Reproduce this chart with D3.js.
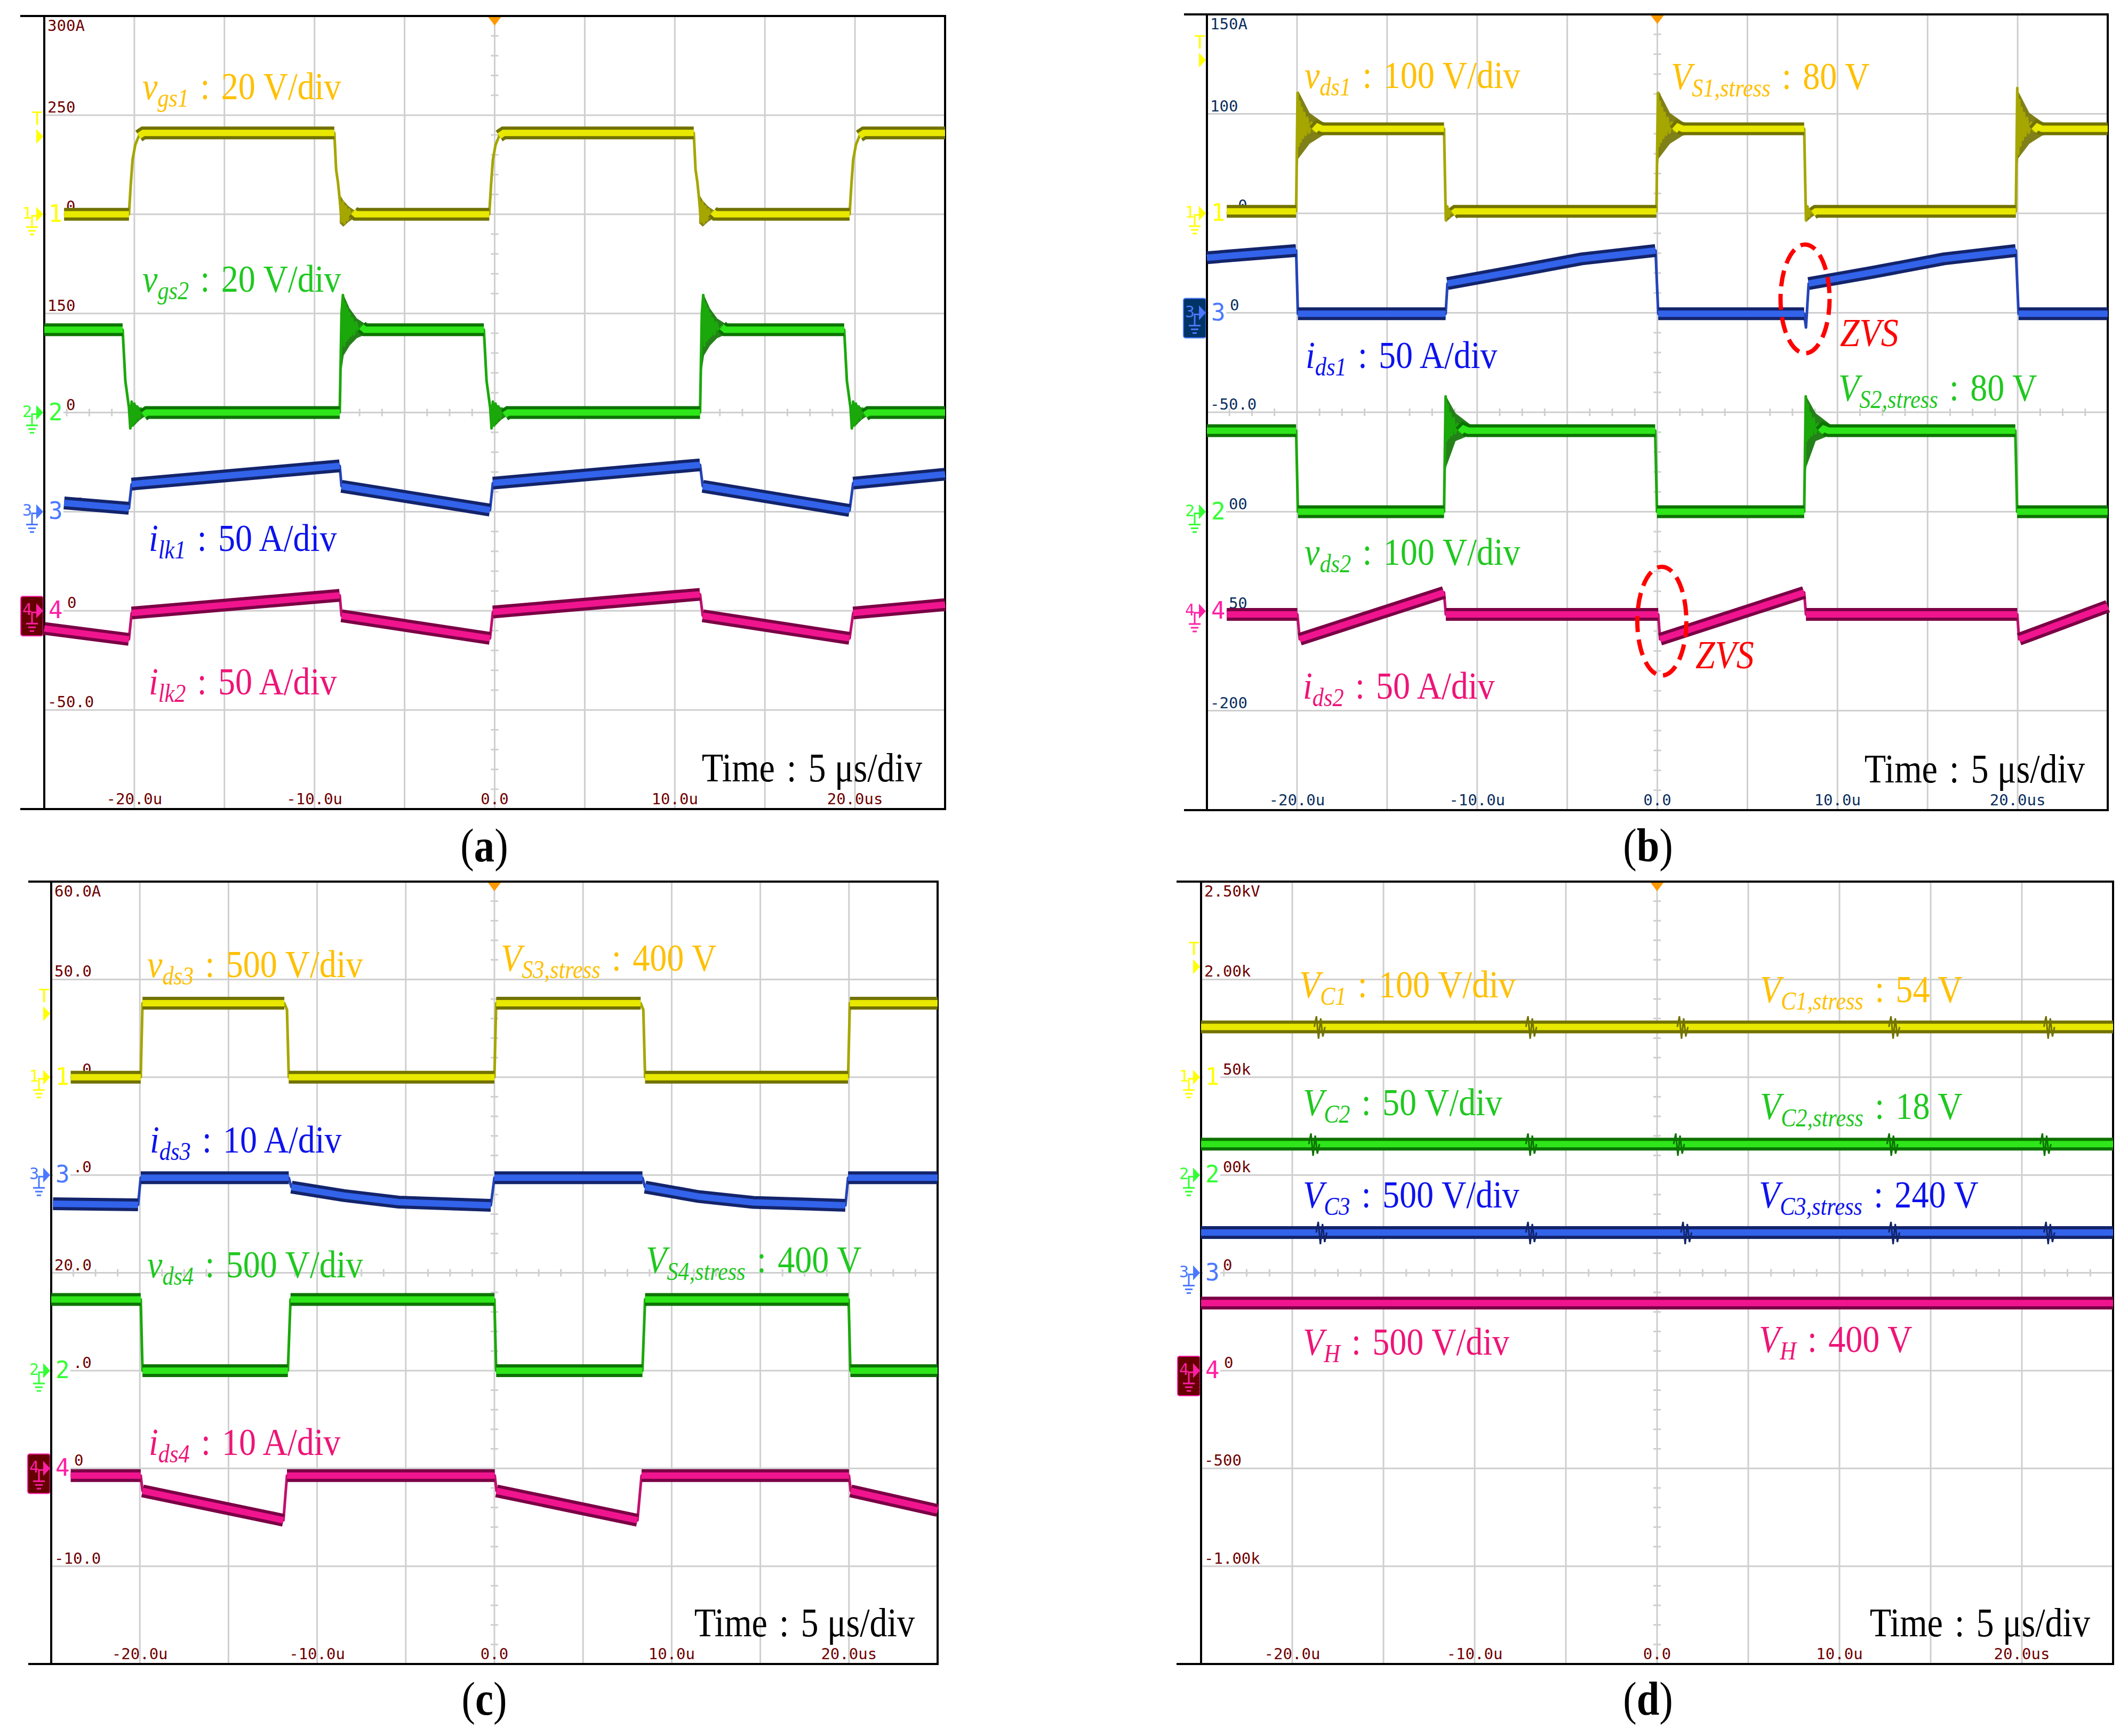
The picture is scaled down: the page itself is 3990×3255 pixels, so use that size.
<!DOCTYPE html>
<html lang="en">
<head>
<meta charset="UTF-8">
<title>Switching waveforms (a)-(d)</title>
<script src="https://cdn.jsdelivr.net/npm/d3@7"></script>
<style>
  body { margin: 0; background: #fff; }
  svg { display: block; }
</style>
</head>
<body>
<svg id="chart" width="3990" height="3255"></svg>
<script>
// ---------------- data ----------------
const timeTicks = [-20, -10, 0, 10, 20];
const timeTickText = ["-20.0u", "-10.0u", "0.0", "10.0u", "20.0us"];

const rowTextA = ["300A", "250", "200", "150", "100", "50.0", "0", "-50.0"];
const rowTextB = ["150A", "100", "50.0", "0", "-50.0", "-100", "-150", "-200"];
const rowTextC = ["60.0A", "50.0", "40.0", "30.0", "20.0", "10.0", "0", "-10.0"];
const rowTextD = ["2.50kV", "2.00k", "1.50k", "1.00k", "500", "0", "-500", "-1.00k"];

// grid row (0 = top) holding each channel's ground
const chRowA = { 1: 2, 2: 4, 3: 5, 4: 6 };
const chRowB = { 1: 2, 3: 3, 2: 5, 4: 6 };
const chRowC = { 1: 2, 3: 3, 2: 5, 4: 6 };
const chRowD = { 1: 2, 2: 3, 3: 4, 4: 5 };

// (a) [time us, value]
const aVgs1 = [[-23.9,0],[-20.3,0],[-20.2,6],[-20.1,11],[-19.95,14],[-19.75,15.8],[-19.5,16.4],[-8.9,16.4],[-8.8,9],[-8.7,6.5],[-8.6,3],[-8.5,-1.5],[-8.42,2.5],[-8.34,-1.8],[-8.26,1.6],[-8.18,-1.2],[-8.08,1],[-7.98,-0.6],[-7.85,0.5],[-7.7,0],
  [-0.3,0],[-0.2,6],[-0.1,11],[0.05,14],[0.25,15.8],[0.5,16.4],[11.05,16.4],[11.15,9],[11.25,6.5],[11.35,3],[11.45,-1.5],[11.53,2.5],[11.61,-1.8],[11.69,1.6],[11.77,-1.2],[11.87,1],[11.97,-0.6],[12.1,0.5],[12.25,0],
  [19.7,0],[19.8,6],[19.9,11],[20.05,14],[20.25,15.8],[20.5,16.4],[25,16.4]];
const aVgs2 = [[-25,16.7],[-20.65,16.7],[-20.5,6.4],[-20.3,1],[-20.22,-3.2],[-20.15,2.2],[-20.08,-2.6],[-20.0,1.8],[-19.92,-1.9],[-19.84,1.2],[-19.74,-1.2],[-19.64,0.8],[-19.5,-0.5],[-19.3,0],
  [-8.6,0],[-8.5,20],[-8.42,23.7],[-8.36,13.5],[-8.3,22],[-8.24,14.5],[-8.18,21],[-8.12,15],[-8.05,20],[-7.98,15.5],[-7.9,19],[-7.8,15.8],[-7.7,18.2],[-7.55,16.2],[-7.4,17.3],[-7.2,16.7],
  [-0.6,16.7],[-0.45,6.4],[-0.25,1],[-0.17,-3.2],[-0.1,2.2],[-0.03,-2.6],[0.05,1.8],[0.13,-1.9],[0.21,1.2],[0.31,-1.2],[0.41,0.8],[0.55,-0.5],[0.75,0],
  [11.4,0],[11.5,20],[11.58,23.7],[11.64,13.5],[11.7,22],[11.76,14.5],[11.82,21],[11.88,15],[11.95,20],[12.02,15.5],[12.1,19],[12.2,15.8],[12.3,18.2],[12.45,16.2],[12.6,17.3],[12.8,16.7],
  [19.4,16.7],[19.55,6.4],[19.75,1],[19.83,-3.2],[19.9,2.2],[19.97,-2.6],[20.05,1.8],[20.13,-1.9],[20.21,1.2],[20.31,-1.2],[20.41,0.8],[20.55,-0.5],[20.75,0],[25,0]];
const aIlk1 = [[-23.9,4.4],[-20.3,1.7],[-20.15,13.9],[-8.6,23.1],[-8.5,12.8],[-0.26,0.8],[-0.1,14.4],[11.4,23.6],[11.55,12.8],[19.7,0.6],[19.9,14.4],[25,18.9]];
const aIlk2 = [[-25,-8.9],[-20.3,-14.4],[-20.15,-1.1],[-8.6,7.8],[-8.5,-2.5],[-0.26,-13.9],[-0.1,-0.6],[11.4,8.3],[11.55,-2.5],[19.7,-13.9],[19.9,-1.1],[25,3.1]];

// ringing envelopes: edge times and [dt, upper, lower]
const aVgs1FallTimes = [-8.9, 11.05];
const aVgs1FallRing = [[0.3,4,-1.8],[0.5,2.8,-2.5],[0.8,1.6,-1.5],[1.2,0.6,-0.6]];
const aVgs2RiseTimes = [-8.6, 11.4];
const aVgs2RiseRing = [[0.08,20,8],[0.22,23.7,11.5],[0.55,21,13.5],[0.95,19,15],[1.45,17.8,15.8],[2.0,17,16.4]];
const aVgs2FallTimes = [-20.65, -0.6, 19.4];
const aVgs2FallRing = [[0.35,1.5,-3.2],[0.65,1.8,-2.6],[0.95,1,-1.5],[1.35,0.5,-0.5]];

// (b)
const bVds1 = [[-23.9,2],[-20.05,2],[-19.97,121],[-19.92,68],[-19.86,112],[-19.8,72],[-19.74,106],[-19.67,76],[-19.6,101],[-19.52,79],[-19.43,96],[-19.33,81],[-19.2,91],[-19.05,83],[-18.85,87],[-18.6,85],
  [-11.84,85],[-11.74,-7],[-11.66,7],[-11.58,-3],[-11.48,4],[-11.35,0],[-11.2,2],
  [-0.05,2],[0.03,121],[0.08,68],[0.14,112],[0.2,72],[0.26,106],[0.33,76],[0.4,101],[0.48,79],[0.57,96],[0.67,81],[0.8,91],[0.95,83],[1.15,87],[1.4,85],
  [8.15,85],[8.25,-7],[8.33,7],[8.41,-3],[8.51,4],[8.64,0],[8.8,2],
  [19.9,2],[19.98,126],[20.03,60],[20.09,114],[20.15,68],[20.21,106],[20.28,74],[20.35,101],[20.43,78],[20.52,96],[20.62,81],[20.75,91],[20.9,83],[21.1,87],[21.35,85],[25,85]];
const bIds1 = [[-25,27.7],[-20.05,31.3],[-19.95,-0.5],[-11.75,-0.5],[-11.65,14.7],[-8.3,20.2],[-4.2,27.1],[-0.1,31.3],[0.05,-0.5],[8.15,-0.5],[8.25,-7.4],[8.4,14.7],[11.85,20.2],[15.9,27.1],[19.9,31.3],[20.05,-0.5],[25,-0.5]];
const bVds2 = [[-25,81.5],[-20.05,81.5],[-19.95,0],[-11.84,0],[-11.75,115.9],[-11.7,71.5],[-11.64,107.5],[-11.58,74.3],[-11.5,99],[-11.42,77],[-11.32,94],[-11.22,79],[-11.1,88],[-10.95,80],[-10.75,83.5],[-10.5,81.5],
  [-0.12,81.5],[-0.02,0],[8.15,0],[8.24,115.9],[8.29,71.5],[8.35,107.5],[8.41,74.3],[8.49,99],[8.57,77],[8.67,94],[8.77,79],[8.89,88],[9.04,80],[9.24,83.5],[9.5,81.5],
  [19.87,81.5],[19.97,0],[25,0]];
const bIds2 = [[-23.9,-1.6],[-19.98,-1.6],[-19.85,-14.1],[-11.84,9.4],[-11.74,-1.6],[0.05,-1.6],[0.15,-14.1],[8.15,9.4],[8.25,-1.6],[19.98,-1.6],[20.08,-14.1],[25,2.5]];

const bVds1RiseTimes = [-20.05, -0.05, 19.9];
const bVds1RiseRing = [[0.05,110,40],[0.12,123,55],[0.75,101,70],[1.45,92,78],[2.45,87,83]];
const bVds1FallTimes = [-11.84, 8.15];
const bVds1FallRing = [[0.1,7,-9],[0.4,4,-4],[0.8,2.5,0.5]];
const bVds2RiseTimes = [-11.84, 8.15];
const bVds2RiseRing = [[0.02,100,30],[0.12,116,45],[0.64,99,71],[1.44,88,77],[2.3,84,80]];

// (c)
const cVds3 = [[-23.9,0],[-19.95,0],[-19.85,378],[-11.85,378],[-11.7,345],[-11.6,0],[0,0],[0.1,378],[8.25,378],[8.4,345],[8.5,0],[19.95,0],[20.05,378],[25,378]];
const cIds3 = [[-24.9,-2.94],[-20.1,-3.05],[-19.95,-0.28],[-11.6,-0.28],[-11.45,-1.24],[-8.5,-2.1],[-5.4,-2.77],[-0.2,-3.1],[0,-0.28],[8.35,-0.28],[8.5,-1.24],[11.5,-2.2],[14.6,-2.8],[19.8,-3.1],[19.95,-0.28],[25,-0.28]];
const cVds4 = [[-25,364],[-19.95,364],[-19.85,0],[-11.65,0],[-11.5,364],[0,364],[0.1,0],[8.35,0],[8.5,364],[19.98,364],[20.08,0],[25,0]];
const cIds4 = [[-23.9,-0.73],[-19.95,-0.73],[-19.85,-2.3],[-11.9,-5.3],[-11.7,-0.73],[0.02,-0.73],[0.12,-2.3],[8.07,-5.3],[8.3,-0.73],[20,-0.73],[20.1,-2.3],[25,-4.3]];

// (d)
const dVc1 = [[-25,51.4],[25,51.4]];
const dVc2 = [[-25,15.8],[25,15.8]];
const dVc3 = [[-25,206],[25,206]];
const dVh = [[-25,345],[25,345]];
const dBurstC1 = [-18.5, -6.9, 1.4, 13.0, 21.5];
const dBurstC2 = [-18.8, -6.9, 1.2, 12.9, 21.3];
const dBurstC3 = [-18.4, -6.9, 1.6, 13.0, 21.5];

// ---------------- styles / layout ----------------
const chCol = {
  1: { bright: "#e8e800", dark: "#727200", edge: "#a6a600", mark: "#ffff00", text: "#ffc000" },
  2: { bright: "#2ee61a", dark: "#0c7300", edge: "#1aa80a", mark: "#33ff33", text: "#1fc81f" },
  3: { bright: "#3263ea", dark: "#13246b", edge: "#2444b8", mark: "#4a78ff", text: "#0c12ee" },
  4: { bright: "#f0158e", dark: "#7a0045", edge: "#c0106e", mark: "#ff1fa5", text: "#ee1477" }
};
const serif = '"Liberation Serif","Times New Roman",serif';
const mono = '"DejaVu Sans Mono",monospace';
const gap = "\u2004";

const panels = [
  { id: "a", x0: 83, x1: 1772, y0: 30, y1: 1517, outer: 38, titleX: 908, titleY: 1615, trig: 1.215, sel: 4,
    axisInk: "#6e0000", boxFill: "#660000", rows: rowTextA, chRow: chRowA,
    traces: [
      { ch: 1, data: aVgs1, perDiv: 20, rings: [{ at: aVgs1FallTimes, env: aVgs1FallRing }] },
      { ch: 2, data: aVgs2, perDiv: 20, rings: [{ at: aVgs2RiseTimes, env: aVgs2RiseRing }, { at: aVgs2FallTimes, env: aVgs2FallRing }] },
      { ch: 3, data: aIlk1, perDiv: 50 }, { ch: 4, data: aIlk2, perDiv: 50 }],
    notes: [
      { ch: 1, x: 267, y: 186, main: "v", sub: "gs1", rest: "20 V/div" },
      { ch: 2, x: 267, y: 547, main: "v", sub: "gs2", rest: "20 V/div" },
      { ch: 3, x: 279, y: 1033, main: "i", sub: "lk1", rest: "50 A/div" },
      { ch: 4, x: 279, y: 1302, main: "i", sub: "lk2", rest: "50 A/div" }] },
  { id: "b", x0: 2263, x1: 3952, y0: 27, y1: 1519, outer: 2220, titleX: 3090, titleY: 1615, trig: 0.46, sel: 3,
    axisInk: "#0b2f5e", boxFill: "#003366", rows: rowTextB, chRow: chRowB,
    traces: [
      { ch: 1, data: bVds1, perDiv: 100, rings: [{ at: bVds1RiseTimes, env: bVds1RiseRing }, { at: bVds1FallTimes, env: bVds1FallRing }] },
      { ch: 3, data: bIds1, perDiv: 50 },
      { ch: 2, data: bVds2, perDiv: 100, rings: [{ at: bVds2RiseTimes, env: bVds2RiseRing }] },
      { ch: 4, data: bIds2, perDiv: 50 }],
    notes: [
      { ch: 1, x: 2446, y: 165, main: "v", sub: "ds1", rest: "100 V/div" },
      { ch: 1, x: 3133, y: 167, main: "V", sub: "S1,stress", rest: "80 V" },
      { ch: 3, x: 2448, y: 690, main: "i", sub: "ds1", rest: "50 A/div" },
      { ch: 2, x: 3447, y: 751, main: "V", sub: "S2,stress", rest: "80 V" },
      { ch: 2, x: 2446, y: 1059, main: "v", sub: "ds2", rest: "100 V/div" },
      { ch: 4, x: 2443, y: 1310, main: "i", sub: "ds2", rest: "50 A/div" }],
    zvs: [{ t: 8.2, ch: 3, v: 7, label: [3450, 649] }, { t: 0.25, ch: 4, v: -5, label: [3179, 1253] }] },
  { id: "c", x0: 96, x1: 1758, y0: 1653, y1: 3120, outer: 53, titleX: 908, titleY: 3215, trig: 1.35, sel: 4,
    axisInk: "#6e0000", boxFill: "#660000", rows: rowTextC, chRow: chRowC,
    traces: [{ ch: 1, data: cVds3, perDiv: 500 }, { ch: 3, data: cIds3, perDiv: 10 }, { ch: 2, data: cVds4, perDiv: 500 }, { ch: 4, data: cIds4, perDiv: 10 }],
    notes: [
      { ch: 1, x: 276, y: 1832, main: "v", sub: "ds3", rest: "500 V/div" },
      { ch: 1, x: 939, y: 1820, main: "V", sub: "S3,stress", rest: "400 V" },
      { ch: 3, x: 281, y: 2161, main: "i", sub: "ds3", rest: "10 A/div" },
      { ch: 2, x: 276, y: 2395, main: "v", sub: "ds4", rest: "500 V/div" },
      { ch: 2, x: 1211, y: 2386, main: "V", sub: "S4,stress", rest: "400 V" },
      { ch: 4, x: 279, y: 2728, main: "i", sub: "ds4", rest: "10 A/div" }] },
  { id: "d", x0: 2252, x1: 3962, y0: 1653, y1: 3120, outer: 2206, titleX: 3090, titleY: 3215, trig: 0.87, sel: 4,
    axisInk: "#6e0000", boxFill: "#660000", rows: rowTextD, chRow: chRowD,
    traces: [{ ch: 1, data: dVc1, perDiv: 100, bursts: dBurstC1 }, { ch: 2, data: dVc2, perDiv: 50, bursts: dBurstC2 },
             { ch: 3, data: dVc3, perDiv: 500, bursts: dBurstC3 }, { ch: 4, data: dVh, perDiv: 500 }],
    notes: [
      { ch: 1, x: 2436, y: 1870, main: "V", sub: "C1", rest: "100 V/div" },
      { ch: 1, x: 3300, y: 1879, main: "V", sub: "C1,stress", rest: "54 V" },
      { ch: 2, x: 2443, y: 2091, main: "V", sub: "C2", rest: "50 V/div" },
      { ch: 2, x: 3300, y: 2098, main: "V", sub: "C2,stress", rest: "18 V" },
      { ch: 3, x: 2443, y: 2264, main: "V", sub: "C3", rest: "500 V/div" },
      { ch: 3, x: 3298, y: 2264, main: "V", sub: "C3,stress", rest: "240 V" },
      { ch: 4, x: 2443, y: 2540, main: "V", sub: "H", rest: "500 V/div" },
      { ch: 4, x: 3298, y: 2535, main: "V", sub: "H", rest: "400 V" }] }
];

const svg = d3.select("#chart");
svg.append("rect").attr("width", 3990).attr("height", 3255).attr("fill", "#fff");

function richText(g, x, y, color, main, sub, rest, size) {
  const t = g.append("text")
    .attr("transform", `translate(${x},${y}) scale(0.89,1)`)
    .attr("font-family", serif).attr("font-size", size).attr("fill", color);
  t.append("tspan").attr("font-style", "italic").text(main);
  if (sub) t.append("tspan").attr("font-style", "italic").attr("font-size", size * 0.66).attr("dy", 14).text(sub);
  if (rest) t.append("tspan").attr("dy", sub ? -14 : 0).text(gap + ":" + gap + rest);
}

function drawMarker(g, ax, gy, n, col, sel, boxFill) {
  if (sel) {
    g.append("rect").attr("x", ax - 44).attr("y", gy - 27).attr("width", 42).attr("height", 74).attr("rx", 4)
      .attr("fill", boxFill).attr("stroke", col.mark).attr("stroke-width", 2);
  }
  g.append("text").attr("x", ax - 41).attr("y", gy + 8).attr("font-family", mono).attr("font-size", 30)
    .attr("fill", col.mark).text(n);
  g.append("path")
    .attr("d", `M${ax - 14},${gy + 3}H${ax - 23}V${gy + 24}M${ax - 34},${gy + 24}H${ax - 12}M${ax - 30},${gy + 31}H${ax - 16}M${ax - 27},${gy + 38}H${ax - 19}`)
    .attr("fill", "none").attr("stroke", col.mark).attr("stroke-width", 3);
  g.append("path").attr("d", `M${ax - 15},${gy - 14}L${ax - 2},${gy}L${ax - 15},${gy + 14}Z`).attr("fill", col.mark);
  // channel number sits on a white patch that hides the grid under it
  g.append("rect").attr("x", ax + 3).attr("y", gy - 30).attr("width", 33).attr("height", 48).attr("fill", "#fff");
  g.append("text").attr("x", ax + 8).attr("y", gy + 14).attr("font-family", mono).attr("font-size", 44)
    .attr("fill", col.mark).text(n);
}

function drawTrace(g, tr, xs, yv, col) {
  const P = tr.data.map(d => [xs(d[0]), yv(d[1])]);
  const line = d3.line();
  // ringing envelopes
  (tr.rings || []).forEach(r => {
    r.at.forEach(t0 => {
      const area = d3.area().x(d => xs(t0 + d[0])).y0(d => yv(d[1])).y1(d => yv(d[2]));
      g.append("path").attr("d", area(r.env)).attr("fill", col.dark).attr("opacity", 0.9);
    });
  });
  // thin line carries the edges and ringing
  g.append("path").attr("d", line(P)).attr("fill", "none")
    .attr("stroke", col.edge).attr("stroke-width", 5).attr("stroke-linejoin", "round");
  // thick noisy band only on the flat / ramp parts
  const runs = [];
  let cur = null;
  for (let i = 1; i < P.length; i++) {
    const dx = Math.abs(P[i][0] - P[i - 1][0]), dy = Math.abs(P[i][1] - P[i - 1][1]);
    if (dy <= dx * 1.2) {
      if (!cur) { cur = [P[i - 1]]; runs.push(cur); }
      cur.push(P[i]);
    } else cur = null;
  }
  const band = runs.map(r => line(r)).join("");
  g.append("path").attr("d", band).attr("fill", "none").attr("stroke", col.dark).attr("stroke-width", 24);
  g.append("path").attr("d", band).attr("fill", "none").attr("stroke", col.bright).attr("stroke-width", 12);
}

const charW = 29 * 0.602;

panels.forEach(p => {
  const g = svg.append("g");
  const xs = d3.scaleLinear().domain([-25, 25]).range([p.x0, p.x1]);
  const ys = d3.scaleLinear().domain([4, -4]).range([p.y0, p.y1]);

  // grid
  const grid = g.append("g").attr("stroke", "#cfcfcf").attr("stroke-width", 3);
  grid.selectAll("line.v").data(d3.range(-20, 25, 5)).join("line")
    .attr("x1", d => xs(d)).attr("x2", d => xs(d)).attr("y1", p.y0).attr("y2", p.y1);
  grid.selectAll("line.h").data(d3.range(-3, 4, 1)).join("line").attr("class", "h")
    .attr("y1", d => ys(d)).attr("y2", d => ys(d)).attr("x1", p.x0).attr("x2", p.x1);
  // minor ticks on the centre cross
  const vt = d3.range(-4, 4.001, 0.2).filter(d => Math.abs(d - Math.round(d)) > 0.01);
  grid.selectAll("line.vt").data(vt).join("line").attr("class", "vt")
    .attr("x1", xs(0) - 7).attr("x2", xs(0) + 7).attr("y1", d => ys(d)).attr("y2", d => ys(d));
  const ht = d3.range(-25, 25.001, 1.25).filter(d => Math.abs(d / 5 - Math.round(d / 5)) > 0.01);
  grid.selectAll("line.ht").data(ht).join("line").attr("class", "ht")
    .attr("y1", ys(0) - 7).attr("y2", ys(0) + 7).attr("x1", d => xs(d)).attr("x2", d => xs(d));

  // row scale labels; on channel rows the channel number covers the first characters
  const chanRows = Object.values(p.chRow);
  p.rows.forEach((txt, i) => {
    const y = i === 0 ? p.y0 + 28 : ys(4 - i) - 5;
    let x = p.x0 + 6, shown = txt;
    if (txt === "0") x = p.x0 + 43;
    else if (chanRows.includes(i)) { shown = txt.slice(2); x = p.x0 + 6 + 2 * charW; }
    g.append("text").attr("x", x).attr("y", y).attr("font-family", mono).attr("font-size", 29)
      .attr("fill", p.axisInk).text(shown);
  });

  // time labels
  g.selectAll("text.tt").data(timeTicks).join("text").attr("class", "tt")
    .attr("x", d => xs(d)).attr("y", p.y1 - 9).attr("text-anchor", "middle")
    .attr("font-family", mono).attr("font-size", 29).attr("fill", p.axisInk)
    .text((d, i) => timeTickText[i]);

  // channel markers and trigger level marker
  Object.entries(p.chRow).forEach(([ch, row]) => {
    drawMarker(g, p.x0, ys(4 - row), ch, chCol[ch], +ch === p.sel, p.boxFill);
  });
  const ty = ys(4 - p.trig);
  g.append("text").attr("x", p.x0 - 13).attr("y", ty - 22).attr("text-anchor", "middle")
    .attr("font-family", mono).attr("font-size", 34).attr("fill", chCol[1].mark).text("T");
  g.append("path").attr("d", `M${p.x0 - 15},${ty - 14}L${p.x0 - 2},${ty}L${p.x0 - 15},${ty + 14}Z`).attr("fill", chCol[1].mark);

  // frame
  g.append("path")
    .attr("d", `M${p.outer},${p.y0}H${p.x1}V${p.y1}H${p.outer}M${p.x0},${p.y0}V${p.y1}`)
    .attr("fill", "none").attr("stroke", "#000").attr("stroke-width", 4);
  // trigger position marker
  g.append("path").attr("d", `M${xs(0) - 12},${p.y0 + 2}L${xs(0) + 12},${p.y0 + 2}L${xs(0)},${p.y0 + 18}Z`).attr("fill", "#ff9900");

  // traces
  p.traces.forEach(tr => {
    const g0 = 4 - p.chRow[tr.ch];
    const yv = v => ys(g0 + v / tr.perDiv);
    drawTrace(g, tr, xs, yv, chCol[tr.ch]);
    if (tr.bursts) {
      const y = yv(tr.data[0][1]);
      tr.bursts.forEach(t => {
        const x = xs(t);
        g.append("path").attr("d", d3.line()([[x - 10, y], [x - 6, y - 20], [x - 2, y + 22], [x + 2, y - 16], [x + 6, y + 18], [x + 10, y]]))
          .attr("fill", "none").attr("stroke", chCol[tr.ch].dark).attr("stroke-width", 3);
      });
    }
  });

  // annotations
  p.notes.forEach(n => richText(g, n.x, n.y, chCol[n.ch].text, n.main, n.sub, n.rest, 72));
  if (p.zvs) {
    p.zvs.forEach(z => {
      const cx = xs(z.t), cy = ys(4 - p.chRow[z.ch] + z.v / 50);
      g.append("ellipse").attr("cx", cx).attr("cy", cy).attr("rx", 46).attr("ry", 102)
        .attr("fill", "none").attr("stroke", "#ff0000").attr("stroke-width", 8).attr("stroke-dasharray", "30 14");
      richText(g, z.label[0], z.label[1], "#ff0000", "ZVS", null, null, 74);
    });
  }
  g.append("text").attr("transform", `translate(${p.x1 - 43},${p.y1 - 52}) scale(0.87,1)`)
    .attr("text-anchor", "end").attr("font-family", serif).attr("font-size", 76).attr("fill", "#000")
    .text("Time" + gap + ":" + gap + "5 μs/div");

  // panel letter
  const tt = g.append("text").attr("transform", `translate(${p.titleX},${p.titleY}) scale(0.87,1)`)
    .attr("text-anchor", "middle").attr("font-family", serif).attr("font-size", 88).attr("fill", "#000");
  tt.append("tspan").text("(");
  tt.append("tspan").attr("font-weight", "bold").text(p.id);
  tt.append("tspan").text(")");
});
</script>
</body>
</html>
